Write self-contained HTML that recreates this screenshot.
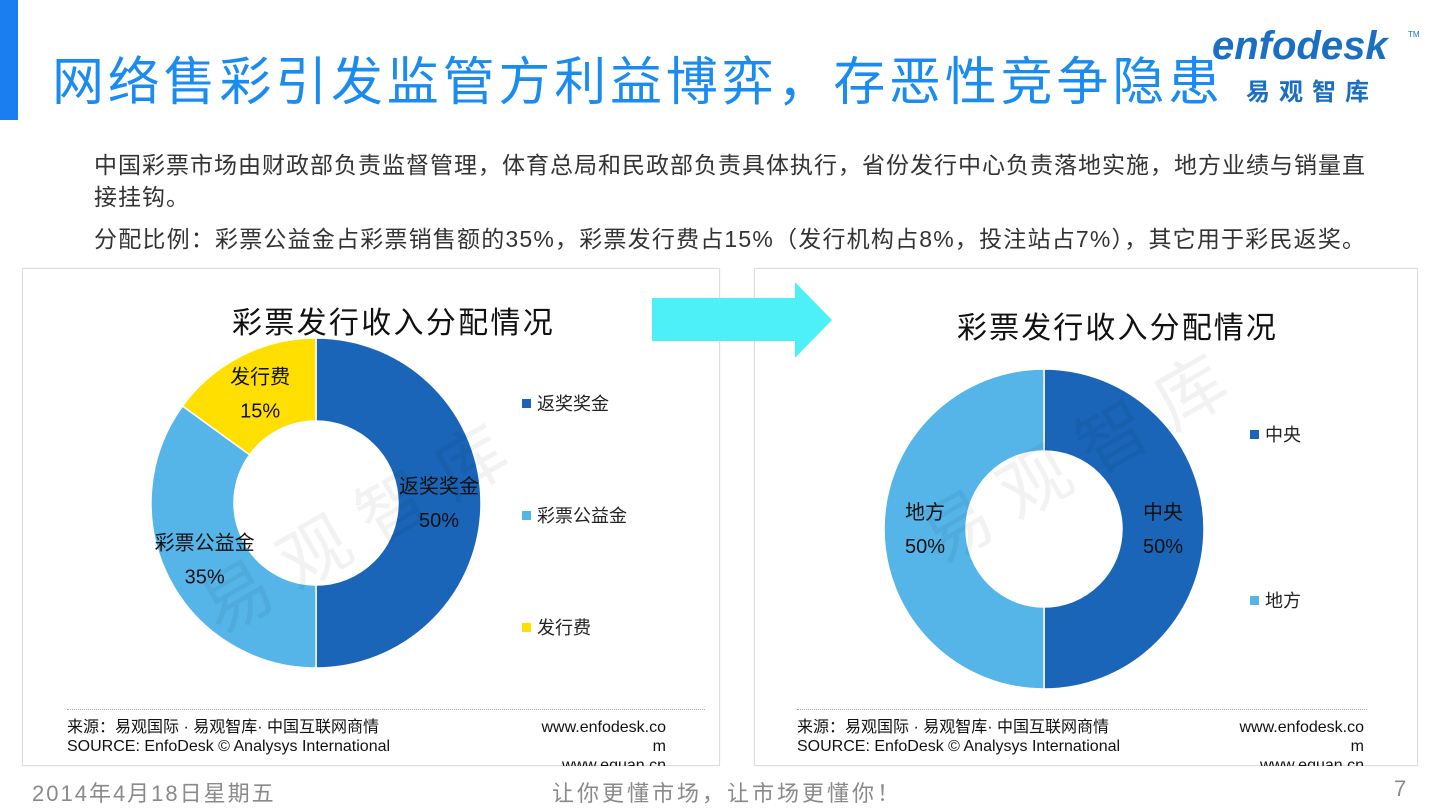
<!DOCTYPE html>
<html><head><meta charset="utf-8"><style>
*{margin:0;padding:0;box-sizing:border-box}
body{width:1440px;height:810px;overflow:hidden;background:#fff;position:relative;font-family:"Liberation Sans","Noto Sans CJK SC",sans-serif}
.abs{position:absolute;white-space:nowrap}
.panel{position:absolute;border:1px solid #ddd;background:#fff;box-shadow:0 0 2px #eee}
.txt{font-size:23px;color:#333;left:94px;letter-spacing:1px}
.src{font-size:16px;color:#111;line-height:19px}
.leg{font-size:18px;color:#222}
.leg i{display:inline-block;width:9px;height:9px;margin-right:6px;vertical-align:2px}
.foot{font-size:22px;color:#8a8a8a;top:776px;letter-spacing:2px}
</style></head><body>
<div class="abs" style="left:0;top:0;width:18px;height:120px;background:#1a7ef0"></div>
<div class="abs" style="left:52px;top:40px;font-size:52px;color:#1a8cf0;letter-spacing:3.8px">网络售彩引发监管方利益博弈，存恶性竞争隐患</div>
<div class="abs" style="left:1212px;top:24px;width:210px;height:80px">
 <div class="abs" style="left:0;top:0;font-size:40px;font-style:italic;font-weight:bold;color:#1b6fc2">enfodesk</div>
 <div class="abs" style="left:196px;top:6px;font-size:8px;color:#1b6fc2">TM</div>
 <div class="abs" style="left:34px;top:48px;font-size:24px;font-weight:bold;color:#1b6fc2;letter-spacing:9px">易观智库</div>
</div>
<div class="abs txt" style="top:146px">中国彩票市场由财政部负责监督管理，体育总局和民政部负责具体执行，省份发行中心负责落地实施，地方业绩与销量直</div>
<div class="abs txt" style="top:178px">接挂钩。</div>
<div class="abs txt" style="top:220px;letter-spacing:1.2px">分配比例：彩票公益金占彩票销售额的35%，彩票发行费占15%（发行机构占8%，投注站占7%），其它用于彩民返奖。</div>

<div class="panel" style="left:22px;top:268px;width:698px;height:498px"></div>
<div class="panel" style="left:754px;top:268px;width:664px;height:498px"></div>

<svg class="abs" style="left:0;top:0" width="1440" height="810">
 <polygon points="652,298 795,298 795,282 832,320 795,358 795,341 652,341" fill="#4ef0f8"/>
</svg>

<div class="abs" style="left:232px;top:298px;font-size:30px;color:#111;letter-spacing:2.3px">彩票发行收入分配情况</div>
<div class="abs" style="left:957px;top:303px;font-size:30px;color:#111;letter-spacing:2.1px">彩票发行收入分配情况</div>

<svg id="charts" class="abs" style="left:0;top:0" width="1440" height="810"></svg>

<div class="abs leg" style="left:522px;top:390px"><i style="background:#1a65b8"></i>返奖奖金</div>
<div class="abs leg" style="left:522px;top:502px"><i style="background:#55b4e8"></i>彩票公益金</div>
<div class="abs leg" style="left:522px;top:614px"><i style="background:#ffdf00"></i>发行费</div>
<div class="abs leg" style="left:1250px;top:421px"><i style="background:#1a65b8"></i>中央</div>
<div class="abs leg" style="left:1250px;top:587px"><i style="background:#55b4e8"></i>地方</div>

<div class="abs" style="left:180px;top:470px;font-size:70px;color:rgba(0,0,0,0.05);transform:rotate(-30deg);letter-spacing:20px">易观智库</div>
<div class="abs" style="left:900px;top:400px;font-size:70px;color:rgba(0,0,0,0.05);transform:rotate(-30deg);letter-spacing:20px">易观智库</div>

<div class="abs" style="left:67px;top:709px;width:638px;border-top:1px dotted #aaa"></div>
<div class="abs" style="left:797px;top:709px;width:570px;border-top:1px dotted #aaa"></div>
<div class="abs src" style="left:67px;top:718px">来源：易观国际 · 易观智库· 中国互联网商情<br>SOURCE: EnfoDesk © Analysys International</div>
<div class="abs src" style="left:516px;top:718px;text-align:right;width:150px;height:48px;overflow:hidden">www.enfodesk.co<br>m<br>www.equan.cn</div>
<div class="abs src" style="left:797px;top:718px">来源：易观国际 · 易观智库· 中国互联网商情<br>SOURCE: EnfoDesk © Analysys International</div>
<div class="abs src" style="left:1214px;top:718px;text-align:right;width:150px;height:48px;overflow:hidden">www.enfodesk.co<br>m<br>www.equan.cn</div>

<div class="abs foot" style="left:32px">2014年4月18日星期五</div>
<div class="abs foot" style="left:552px;letter-spacing:3px">让你更懂市场，让市场更懂你！</div>
<div class="abs foot" style="left:1394px">7</div>

<script>
const leftCategories = ["返奖奖金","彩票公益金","发行费"];
const leftValues = [50,35,15];
const leftLabels = ["50%","35%","15%"];
const rightCategories = ["中央","地方"];
const rightValues = [50,50];
const rightLabels = ["50%","50%"];
const colors = ["#1a65b8","#55b4e8","#ffdf00"];
const svg = document.getElementById('charts');
const NS = "http://www.w3.org/2000/svg";
function donut(cx, cy, ro, ri, cats, vals, labs, labelPos, prefix){
  const total = vals.reduce((a,b)=>a+b,0);
  let a0 = -Math.PI/2;
  vals.forEach((v,i)=>{
    const a1 = a0 + v/total*2*Math.PI;
    const big = (a1-a0)>Math.PI?1:0;
    const p = (r,a)=>[cx+r*Math.cos(a), cy+r*Math.sin(a)];
    const [x0,y0]=p(ro,a0),[x1,y1]=p(ro,a1),[x2,y2]=p(ri,a1),[x3,y3]=p(ri,a0);
    const path = document.createElementNS(NS,'path');
    path.setAttribute('d',`M${x0},${y0}A${ro},${ro} 0 ${big} 1 ${x1},${y1}L${x2},${y2}A${ri},${ri} 0 ${big} 0 ${x3},${y3}Z`);
    path.setAttribute('fill',colors[i]);
    path.setAttribute('stroke','#fff');
    path.setAttribute('stroke-width','1.5');
    
    
    svg.appendChild(path);
    const am = (a0+a1)/2;
    const lr = labelPos[i];
    const lx = cx + lr*Math.cos(am), ly = cy + lr*Math.sin(am);
    [[cats[i],-10],[labs[i],24]].forEach(([t,dy])=>{
      const tx = document.createElementNS(NS,'text');
      tx.setAttribute('x',lx); tx.setAttribute('y',ly+dy);
      tx.setAttribute('text-anchor','middle');
      tx.setAttribute('font-size','20');
      tx.setAttribute('fill','#111');
      tx.setAttribute('font-family','"Liberation Sans","Noto Sans CJK SC",sans-serif');
      tx.textContent = t;
      
      
      svg.appendChild(tx);
    });
    a0 = a1;
  });
}
donut(316,503,165,82,leftCategories,leftValues,leftLabels,[123,125,123],'left');
donut(1044,529,160,78,rightCategories,rightValues,rightLabels,[119,119],'right');
</script>
</body></html>
